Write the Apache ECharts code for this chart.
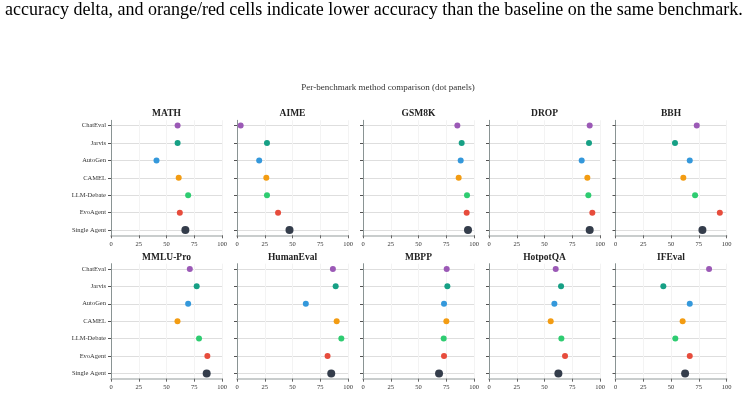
<!DOCTYPE html>
<html>
<head>
<meta charset="utf-8">
<script src="https://cdn.jsdelivr.net/npm/echarts@6/dist/echarts.min.js"></script>
<style>
  html, body { margin: 0; padding: 0; background: #fff; }
  #chart { width: 754px; height: 396px; }
</style>
</head>
<body>
<div id="chart"></div>
<script>
// methods (top to bottom in each panel)
const methods = ['ChatEval', 'Jarvis', 'AutoGen', 'CAMEL', 'LLM-Debate', 'EvoAgent', 'Single Agent'];
const benchmarks = ['MATH', 'AIME', 'GSM8K', 'DROP', 'BBH', 'MMLU-Pro', 'HumanEval', 'MBPP', 'HotpotQA', 'IFEval'];
const xTicks = [0, 25, 50, 75, 100];

// accuracy per benchmark, same order as methods
const math      = [60, 60, 41, 61, 69.5, 62, 67];
const aime      = [3.3, 27, 20, 26.4, 27, 37, 47.3];
const gsm8k     = [85, 88.9, 88, 86.2, 93.7, 93.4, 94.6];
const drop      = [90.7, 90.1, 83.5, 88.6, 89.5, 93.1, 90.7];
const bbh       = [73.2, 53.6, 66.9, 61.1, 71.7, 94, 78.3];
const mmluPro   = [71, 77.2, 69.5, 59.9, 79.3, 86.8, 86.2];
const humanEval = [86.4, 88.9, 62, 89.8, 94, 81.6, 84.9];
const mbpp      = [75.4, 76, 73, 75.1, 72.7, 73, 68.5];
const hotpotQA  = [60.1, 64.9, 58.9, 55.6, 65.2, 68.5, 62.5];
const ifEval    = [84.3, 43.1, 66.9, 60.5, 53.9, 66.9, 62.7];

const values = [math, aime, gsm8k, drop, bbh, mmluPro, humanEval, mbpp, hotpotQA, ifEval];

// styles
const colors = ['#9b59b6', '#16a085', '#3498db', '#f39c12', '#2ecc71', '#e74c3c', '#343d4b'];
const serif = '"Liberation Serif", "DejaVu Serif", serif';
const colLeft = [111, 237, 363, 489, 615.5];
const rowTop = [120.3, 263.7];
const gw = 111, gh = 115;

const chart = echarts.init(document.getElementById('chart'));

const grids = [], xAxes = [], yAxes = [], series = [];
const titles = [
  {
    text: 'accuracy delta, and orange/red cells indicate lower accuracy than the baseline on the same benchmark.',
    left: 5, top: 1, padding: 0,
    textStyle: { fontFamily: serif, fontSize: 18, fontWeight: 'normal', color: '#000' }
  },
  {
    text: 'Per-benchmark method comparison (dot panels)',
    left: 388, top: 83.5, padding: 0, textAlign: 'center',
    textStyle: { fontFamily: serif, fontSize: 9, fontWeight: 'normal', color: '#333' }
  }
];

benchmarks.forEach((name, i) => {
  const r = Math.floor(i / 5), c = i % 5;
  grids.push({ left: colLeft[c], top: rowTop[r], width: gw, height: gh });
  titles.push({
    text: name,
    left: colLeft[c] + gw / 2, top: rowTop[r] - 11.5, padding: 0, textAlign: 'center',
    textStyle: { fontFamily: serif, fontSize: 9.5, fontWeight: 'bold', color: '#222' }
  });
  xAxes.push({
    gridIndex: i, type: 'value', min: 0, max: 100, interval: 25,
    axisLine: { show: true, onZero: false, lineStyle: { color: '#c9cdcd', width: 2 } },
    axisTick: { show: true, length: 3, lineStyle: { color: '#666' } },
    axisLabel: { fontFamily: serif, fontSize: 6.5, color: '#333', margin: 5 },
    splitLine: { show: true, lineStyle: { color: '#f3f3f3', width: 1 } }
  });
  yAxes.push({
    gridIndex: i, type: 'value', inverse: true, min: -0.3, max: 6.3,
    axisLine: { show: true, onZero: false, lineStyle: { color: '#8a9494', width: 1 } },
    axisTick: { show: true, length: 3, customValues: [0, 1, 2, 3, 4, 5, 6], lineStyle: { color: '#555' } },
    axisLabel: {
      show: c === 0, customValues: [0, 1, 2, 3, 4, 5, 6],
      fontFamily: serif, fontSize: 6.5, color: '#333', margin: 5,
      formatter: v => methods[Math.round(v)] || ''
    },
    splitLine: { show: true, lineStyle: { color: '#dedede', width: 1 } }
  });
  series.push({
    type: 'scatter', xAxisIndex: i, yAxisIndex: i,
    data: values[i].map((v, k) => ({
      value: [v, k],
      symbolSize: k === 6 ? 8 : 6,
      itemStyle: { color: colors[k], opacity: 1 }
    })),
    emphasis: { disabled: true },
    z: 3
  });
});

chart.setOption({
  animation: false,
  title: titles,
  grid: grids,
  xAxis: xAxes,
  yAxis: yAxes,
  series: series
});
</script>
</body>
</html>
